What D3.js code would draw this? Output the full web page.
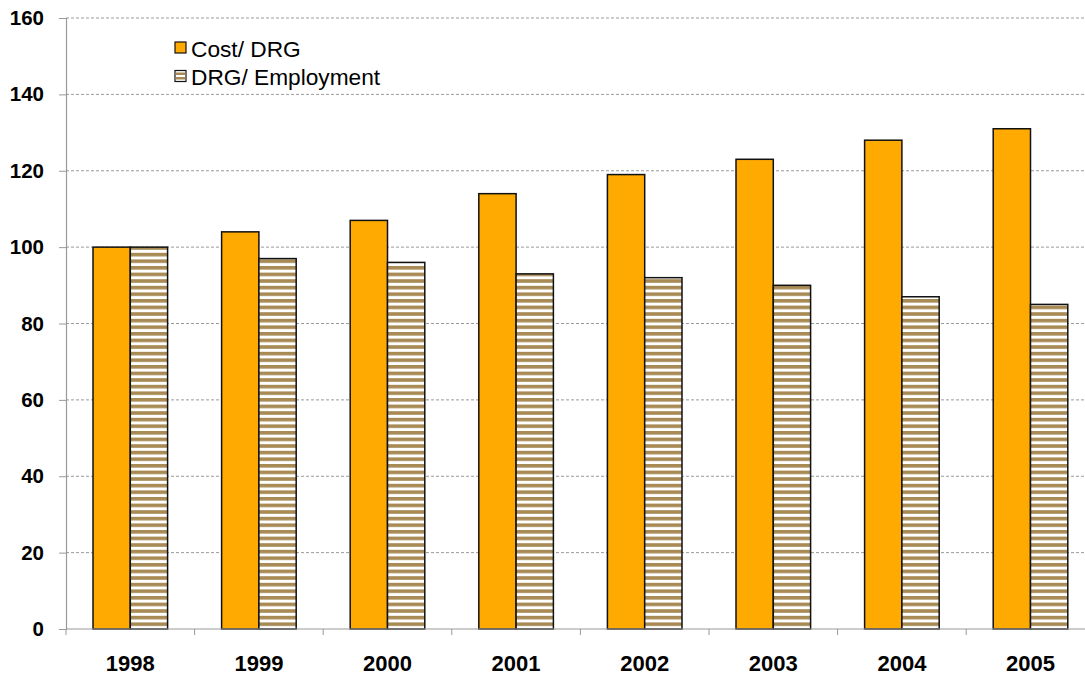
<!DOCTYPE html>
<html><head><meta charset="utf-8">
<script src="https://cdn.jsdelivr.net/npm/d3@7"></script>
<style>html,body{margin:0;padding:0;background:#fff;overflow:hidden}</style>
</head><body><svg id="c" width="1085" height="675"></svg>
<script>
const years = ["1998","1999","2000","2001","2002","2003","2004","2005"];
const costPerDRG = [100,104,107,114,119,123,128,131];
const drgPerEmployment = [100,97,96,93,92,90,87,85];
const seriesNames = ["Cost/ DRG","DRG/ Employment"];
const yTicks = [0,20,40,60,80,100,120,140,160];

const svg = d3.select("#c");
const plotLeft = 66, plotTop = 18, plotBottom = 629, bandW = 128.6;
const x0 = d3.scaleBand().domain(years).range([plotLeft, plotLeft + bandW*years.length]).padding(0);
const x1 = d3.scaleBand().domain(seriesNames).range([x0.bandwidth()*0.21, x0.bandwidth()*0.79]).padding(0);
const y = d3.scaleLinear().domain([0,160]).range([plotBottom, plotTop]);

const defs = svg.append("defs");
const pat = defs.append("pattern").attr("id","stripes").attr("patternUnits","userSpaceOnUse")
  .attr("width",10).attr("height",6.6).attr("y", plotBottom);
pat.append("rect").attr("width",10).attr("height",6.6).attr("fill","#fff");
pat.append("rect").attr("y",0).attr("width",10).attr("height",3.6).attr("fill","#A88A55");

// gridlines
svg.append("g").selectAll("line").data(yTicks.filter(d=>d>0)).join("line")
  .attr("x1",plotLeft).attr("x2",1085).attr("y1",d=>y(d)).attr("y2",d=>y(d))
  .attr("stroke","#9a9a9a").attr("stroke-width",1).attr("stroke-dasharray","3,2");

// bars
const data = years.map((yr,i)=>({year:yr, vals:[costPerDRG[i], drgPerEmployment[i]]}));
const g = svg.append("g").selectAll("g").data(data).join("g")
  .attr("transform",d=>`translate(${x0(d.year)},0)`);
g.selectAll("rect").data(d=>d.vals.map((v,j)=>({s:seriesNames[j], v, j}))).join("rect")
  .attr("x",d=>x1(d.s)).attr("width",x1.bandwidth())
  .attr("y",d=>y(d.v)).attr("height",d=>y(0)-y(d.v))
  .attr("fill",d=>d.j===0?"#FFAA00":"url(#stripes)")
  .attr("stroke","#111").attr("stroke-width",1.5);

// y axis
const yAxis = d3.axisLeft(y).tickValues(yTicks).tickSize(7).tickPadding(15);
const ya = svg.append("g").attr("transform",`translate(${plotLeft},0)`).call(yAxis);
ya.select(".domain").attr("stroke","#999").attr("stroke-width",1.2);
ya.selectAll(".tick line").attr("stroke","#999");
ya.selectAll("text").attr("font-family","Liberation Sans, Arial, sans-serif")
  .attr("font-size",20.5).attr("font-weight","bold").attr("fill","#000");

// x axis
const xa = svg.append("g").attr("transform",`translate(0,${plotBottom})`);
xa.append("line").attr("x1",plotLeft).attr("x2",1085).attr("y1",0).attr("y2",0)
  .attr("stroke","#999").attr("stroke-width",1.2);
xa.selectAll("line.t").data(years).join("line").attr("class","t")
  .attr("x1",d=>x0(d)).attr("x2",d=>x0(d)).attr("y1",0).attr("y2",6).attr("stroke","#999");
xa.selectAll("text").data(years).join("text")
  .attr("x",d=>x0(d)+x0.bandwidth()/2).attr("y",42)
  .attr("text-anchor","middle")
  .attr("font-family","Liberation Sans, Arial, sans-serif")
  .attr("font-size",22).attr("font-weight","bold").text(d=>d);

// legend
const lg = svg.append("g");
seriesNames.forEach((s,i)=>{
  const yy = 42 + i*28.5;
  lg.append("rect").attr("x",175).attr("y",yy).attr("width",11).attr("height",11)
    .attr("fill", i===0?"#FFAA00":"#fff").attr("stroke","#111").attr("stroke-width",1.2);
  if(i===1){
    lg.append("rect").attr("x",175.6).attr("y",yy+2).attr("width",9.8).attr("height",2.5).attr("fill","#A88A55");
    lg.append("rect").attr("x",175.6).attr("y",yy+6.5).attr("width",9.8).attr("height",2.5).attr("fill","#A88A55");
  }
  lg.append("text").attr("x",191).attr("y",yy+14.5).attr("font-family","Liberation Sans, Arial, sans-serif")
    .attr("font-size",22.7).attr("fill","#000").text(s);
});
</script></body></html>
